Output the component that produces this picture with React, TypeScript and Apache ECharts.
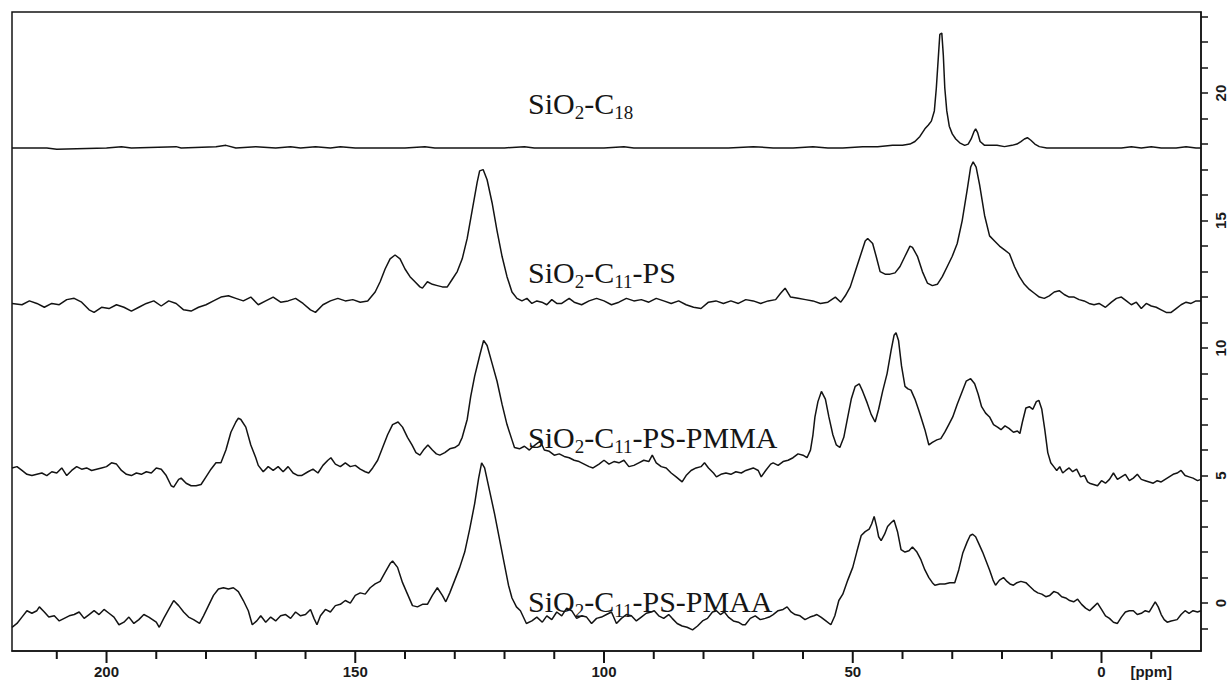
import React, { useEffect, useRef } from "react";
import * as echarts from "echarts";

// [ppm, intensity] pairs
const c18: number[][] = [[219,17.85],[214,17.85],[212,17.85],[210,17.8],[200,17.85],[197,17.9],[195,17.85],[186,17.9],[185,17.85],[178,17.9],[176,17.95],[174,17.85],[170,17.9],[166,17.85],[163,17.9],[161,17.85],[158,17.9],[155,17.85],[153,17.9],[150,17.85],[140,17.85],[136,17.9],[134,17.85],[120,17.85],[116,17.9],[114,17.85],[100,17.85],[96,17.9],[94,17.85],[80,17.85],[75,17.85],[70,17.9],[66,17.85],[62,17.85],[58,17.9],[55,17.85],[52,17.85],[48,17.9],[45,17.9],[42,17.95],[40,17.95],[38.5,18.0],[37.5,18.1],[36.5,18.3],[35.5,18.6],[34.8,18.75],[34.2,18.9],[33.6,19.3],[33.2,20.2],[32.8,21.4],[32.5,22.3],[32.1,22.35],[31.8,21.5],[31.5,20.2],[31.1,19.3],[30.6,18.7],[30,18.4],[29.3,18.2],[28.5,18.05],[27.5,17.95],[26.8,18.0],[26.2,18.2],[25.6,18.5],[25.3,18.6],[24.9,18.45],[24.4,18.1],[23.5,17.95],[22.5,17.95],[21,17.95],[19.5,17.9],[18,17.95],[17,18.0],[16.2,18.1],[15.5,18.2],[14.9,18.25],[14.2,18.15],[13.4,18.0],[12.5,17.9],[11,17.85],[8,17.85],[5,17.85],[2,17.85],[0,17.85],[-4,17.85],[-6,17.9],[-8,17.85],[-10,17.9],[-12,17.85],[-15,17.85],[-17,17.9],[-19,17.85],[-20,17.85]];

const ps: number[][] = [[219,11.75],[217,11.7],[215.5,11.85],[214,11.75],[212.5,11.6],[211,11.75],[209.5,11.7],[208,11.9],[206.5,11.95],[205,11.8],[203.5,11.5],[202.5,11.4],[201,11.6],[199.5,11.55],[198,11.7],[196.5,11.6],[195,11.45],[193.5,11.6],[192,11.75],[190.5,11.85],[189,11.65],[187.5,11.85],[186,11.75],[184.5,11.5],[183,11.45],[181.5,11.6],[180,11.7],[178.5,11.85],[177,12.0],[175.5,12.05],[174,11.95],[172.5,11.85],[171,12.0],[169.5,11.7],[168,11.85],[166.5,12.0],[165,11.8],[163.5,11.85],[162,11.95],[160.5,11.75],[159,11.5],[158,11.4],[156.5,11.7],[155,11.85],[153.5,11.95],[152,11.85],[150.5,11.9],[149,11.8],[147.5,11.85],[146,12.2],[145,12.6],[144,13.1],[143,13.5],[142,13.65],[141,13.5],[140,13.1],[139,12.8],[138,12.6],[137,12.4],[136.5,12.35],[135.5,12.6],[134.5,12.5],[133.5,12.45],[132.5,12.4],[131.5,12.4],[130.5,12.7],[129.5,13.0],[128.5,13.5],[127.5,14.3],[126.5,15.4],[125.5,16.5],[125,16.95],[124.3,17.0],[123.5,16.6],[122.5,15.7],[121.5,14.6],[120.5,13.6],[119.5,12.8],[118.5,12.2],[117.5,11.95],[116.5,11.85],[115.5,11.95],[114.5,11.75],[113.5,11.85],[112.5,11.8],[111.5,11.7],[110.5,11.9],[109.5,11.75],[108.5,11.75],[107,11.95],[106,11.8],[104.5,11.7],[103,11.85],[101.5,11.95],[100,11.85],[98.5,11.7],[97,11.8],[95.5,11.95],[94,11.85],[92.5,11.9],[91,11.8],[89.5,11.95],[88,11.85],[86.5,11.75],[85,11.85],[83.5,11.7],[82,11.6],[80.5,11.55],[79,11.8],[77.5,11.85],[76,11.75],[74.5,11.85],[73,11.75],[71.5,11.9],[70,11.85],[68.5,11.75],[67,11.85],[65.5,11.9],[64.5,12.15],[63.6,12.35],[62.5,12.0],[61,11.95],[59.5,11.9],[58,11.85],[56.5,11.75],[55,11.8],[53.5,12.0],[52.4,11.8],[51.5,12.05],[50.5,12.4],[49.5,13.0],[48.5,13.6],[47.5,14.2],[47,14.3],[46,14.1],[45.3,13.6],[44.5,13.0],[43.5,12.9],[42.5,12.9],[41.5,12.95],[40.5,13.2],[39.5,13.6],[38.5,14.0],[38,13.95],[37,13.6],[36,13.0],[35,12.55],[34,12.45],[33,12.5],[32,12.8],[31,13.2],[30,13.6],[29,14.1],[28,15.0],[27,16.2],[26.3,17.1],[25.8,17.3],[25.2,17.1],[24.5,16.4],[23.5,15.2],[22.5,14.4],[21.5,14.2],[20.5,14.0],[19.5,13.85],[18.5,13.7],[17.5,13.2],[16.5,12.8],[15.5,12.5],[14.5,12.3],[13.5,12.15],[12.5,12.0],[11.5,11.95],[10.5,12.05],[9.5,12.2],[8.5,12.25],[7.5,12.1],[6.5,12.0],[5.5,12.0],[4.5,11.9],[3.5,11.85],[2.5,11.75],[1.5,11.7],[0.5,11.75],[-0.8,11.6],[-2,11.8],[-3,11.95],[-4,12.0],[-5,11.85],[-6,11.7],[-7,11.8],[-8,11.55],[-9,11.75],[-10,11.65],[-11,11.6],[-12,11.5],[-13,11.4],[-14,11.4],[-15,11.55],[-16,11.7],[-17,11.8],[-18,11.75],[-19,11.85],[-20,11.85]];

const pmma: number[][] = [[219,5.3],[218,5.35],[217,5.2],[216,5.05],[215,5.0],[214,5.05],[213,5.1],[212,5.0],[211,5.15],[210,5.1],[209,5.3],[208,5.0],[207,5.2],[206,5.35],[205,5.25],[204,5.3],[203,5.2],[202,5.25],[201,5.3],[200,5.35],[199,5.5],[198,5.45],[197,5.2],[196,5.05],[195,5.0],[194,5.1],[193,5.05],[192,5.15],[191,5.1],[190,5.3],[189,5.25],[188,5.0],[187,4.6],[186.5,4.55],[185.5,4.85],[185,4.9],[184,4.7],[183,4.6],[182,4.6],[181,4.65],[180,4.95],[179,5.25],[178,5.5],[177,5.5],[176,6.0],[175,6.7],[174,7.1],[173.5,7.25],[173,7.2],[172,6.9],[171,6.2],[170,5.7],[169.5,5.4],[168.5,5.15],[167.5,5.35],[166.5,5.2],[165.5,5.35],[164.5,5.15],[163.5,5.35],[162.5,5.1],[161.5,5.0],[160.8,5.0],[159.5,5.15],[158.5,5.25],[157.5,5.1],[156.5,5.4],[155.5,5.6],[154.9,5.7],[154,5.45],[153,5.35],[152,5.5],[151,5.35],[150,5.4],[149,5.25],[148,5.15],[147.3,5.1],[146.5,5.3],[145.5,5.6],[144.5,6.1],[143.5,6.6],[142.5,7.0],[141.4,7.1],[140.5,6.9],[139.5,6.5],[138.6,6.2],[137.8,5.9],[137,5.8],[136.3,6.0],[135.4,6.2],[134.5,6.0],[133.7,5.85],[133,5.8],[132,5.9],[131,6.05],[130,6.1],[129.2,6.2],[128.5,6.5],[127.5,7.2],[126.8,8.1],[126,8.9],[125,9.7],[124.2,10.3],[123.5,10.1],[122.5,9.4],[121.5,8.7],[120.5,7.8],[119.5,7.0],[118.5,6.4],[118,6.1],[117,6.05],[116,6.15],[115,6.0],[114.5,6.1],[113.5,6.25],[112.8,6.35],[112,6.0],[111,5.95],[110,5.8],[109,5.85],[108,5.75],[107,5.7],[106,5.6],[105,5.55],[104,5.45],[103,5.35],[102.2,5.3],[101,5.45],[100,5.6],[99,5.45],[98,5.55],[97,5.5],[96,5.6],[95,5.35],[94,5.4],[93,5.5],[92,5.6],[91,5.55],[90.3,5.8],[89.5,5.5],[88.5,5.35],[87.5,5.3],[86.5,5.1],[85.5,4.95],[84.3,4.75],[83.5,5.0],[82.5,5.2],[81.5,5.3],[80.5,5.35],[79.8,5.5],[79,5.3],[78,5.1],[77.4,4.95],[76.5,5.05],[75.5,5.1],[74.5,5.05],[73.5,5.15],[72.4,5.1],[71.5,5.2],[70,5.3],[69,5.2],[68.4,4.95],[67.5,5.2],[66.5,5.45],[66,5.5],[65,5.4],[64,5.55],[63,5.6],[62,5.7],[61,5.85],[60,5.8],[59.2,5.7],[58.5,6.0],[58,6.6],[57.6,7.3],[57,7.9],[56.3,8.3],[55.5,8.0],[54.8,7.3],[54,6.6],[53.3,6.2],[52.6,6.1],[51.8,6.5],[51,7.3],[50.3,8.0],[49.5,8.5],[48.7,8.6],[48,8.3],[47.1,7.85],[46.3,7.4],[45.5,7.1],[44.8,7.6],[44,8.3],[43.1,9.0],[42.3,9.9],[41.7,10.5],[41.3,10.6],[40.8,10.3],[40.2,9.3],[39.5,8.5],[38.9,8.4],[38.3,8.35],[37.5,8.0],[36.8,7.6],[36.3,7.3],[35.5,6.8],[34.7,6.2],[34,6.3],[33.1,6.4],[32.3,6.45],[31.5,6.7],[30.7,7.0],[29.9,7.3],[29,7.8],[28,8.3],[27.2,8.7],[26.3,8.8],[25.5,8.6],[24.8,8.2],[24.1,7.7],[23.3,7.45],[22.5,7.3],[21.7,7.0],[20.9,6.9],[20.2,6.8],[19.4,6.95],[18.6,6.85],[17.7,6.7],[16.9,6.75],[16.4,6.65],[15.9,7.1],[15.2,7.65],[14.5,7.7],[13.8,7.6],[13.1,7.9],[12.6,7.95],[12,7.6],[11.4,6.8],[10.8,5.9],[10.2,5.5],[9.6,5.35],[9,5.2],[8.4,5.35],[7.8,5.1],[7.2,5.2],[6.5,5.3],[5.8,5.15],[5,5.25],[4.2,4.95],[3.4,5.0],[2.8,4.75],[2.4,4.7],[1.6,4.65],[0.8,4.6],[0,4.8],[-0.8,4.7],[-1.6,4.85],[-2.4,5.1],[-3.2,4.85],[-4,4.95],[-4.8,5.05],[-5.6,4.8],[-6.4,4.9],[-7.2,5.05],[-8,4.85],[-8.8,4.8],[-9.6,4.75],[-10.4,4.7],[-11.2,4.8],[-12,4.75],[-12.8,4.85],[-13.6,4.95],[-14.4,5.05],[-15.2,5.1],[-16,5.2],[-16.8,5.0],[-17.6,4.95],[-18.4,4.9],[-19.3,4.8],[-20,4.85]];

const pmaa: number[][] = [[219,-0.95],[218,-0.8],[217,-0.55],[216,-0.3],[215,-0.4],[214,-0.3],[213.5,-0.15],[212.5,-0.35],[211.6,-0.55],[210.5,-0.5],[209.5,-0.7],[208.5,-0.6],[207.5,-0.5],[206.5,-0.45],[205.5,-0.35],[204.5,-0.6],[203.5,-0.45],[202.5,-0.3],[201.5,-0.45],[200.5,-0.25],[199.5,-0.4],[198.5,-0.55],[197.5,-0.85],[196.5,-0.75],[195.5,-0.55],[194.5,-0.8],[193.5,-0.65],[192.5,-0.45],[191.5,-0.55],[190,-0.75],[189.4,-0.95],[188.5,-0.6],[187.5,-0.25],[186.5,0.1],[185.5,-0.1],[184.5,-0.35],[183.5,-0.55],[182.5,-0.65],[181.3,-0.8],[180.5,-0.5],[179.5,-0.1],[178.5,0.3],[177.5,0.55],[176.5,0.6],[175.5,0.55],[174.5,0.6],[173.5,0.45],[172.5,0.1],[171.5,-0.3],[170.7,-0.85],[169.8,-0.7],[169,-0.5],[168,-0.75],[167,-0.55],[166,-0.7],[165,-0.5],[164,-0.45],[163,-0.6],[162,-0.35],[161,-0.5],[160,-0.45],[159,-0.25],[158.3,-0.6],[157.7,-0.85],[157,-0.5],[156,-0.25],[155,-0.35],[154,-0.1],[153,-0.05],[152,0.1],[151,0.0],[150,0.3],[149,0.4],[148,0.35],[147,0.6],[146,0.75],[145,0.85],[144,1.2],[143,1.55],[142.5,1.65],[141.5,1.4],[140.5,0.8],[139.5,0.35],[138.5,-0.1],[137.5,-0.15],[136.5,-0.05],[135.5,-0.05],[134.5,0.3],[133.5,0.6],[132.5,0.3],[131.8,0.05],[131,0.4],[130,0.9],[129,1.4],[128,2.0],[127,2.9],[126,3.9],[125.2,4.9],[124.6,5.5],[124,5.3],[123,4.4],[122,3.5],[121,2.5],[120,1.5],[119.2,0.7],[118.5,0.2],[117.6,-0.15],[116.8,-0.3],[115.6,-0.8],[114.5,-0.7],[113.5,-0.55],[112.4,-0.75],[111.5,-0.5],[110.5,-0.65],[109.5,-0.35],[108.5,-0.5],[107.5,-0.2],[106.5,-0.3],[105.5,-0.6],[104.5,-0.5],[103.5,-0.55],[102.5,-0.8],[101.5,-0.6],[100.5,-0.55],[99.5,-0.45],[98.5,-0.35],[97.5,-0.8],[96.5,-0.6],[95.5,-0.45],[94.5,-0.5],[93.5,-0.7],[92.5,-0.55],[91.5,-0.4],[90.5,-0.35],[89.9,-0.3],[89,-0.5],[88,-0.6],[87,-0.45],[86.3,-0.6],[85.3,-0.8],[84.3,-0.9],[83.3,-0.95],[82.2,-1.05],[81.2,-0.9],[80.2,-0.7],[79.2,-0.6],[78.2,-0.35],[77.4,-0.3],[76.6,-0.45],[75.8,-0.35],[75,-0.55],[74,-0.7],[73,-0.75],[72.2,-0.85],[71.6,-0.85],[70.6,-0.6],[69.6,-0.5],[68.6,-0.65],[67.6,-0.6],[66.8,-0.55],[66,-0.45],[65,-0.3],[64,-0.25],[63.2,-0.15],[62.4,-0.35],[61.6,-0.45],[60.6,-0.5],[59.6,-0.65],[58.6,-0.55],[57.8,-0.5],[57.2,-0.45],[56.4,-0.55],[55.4,-0.7],[54.4,-0.85],[53.6,-0.5],[52.8,0.1],[52,0.35],[51,0.9],[50,1.4],[49.2,2.0],[48.3,2.65],[47.5,2.8],[46.7,2.9],[46.2,3.1],[45.7,3.4],[45.2,3.0],[44.8,2.6],[44.3,2.45],[43.6,2.7],[43,3.0],[42.3,3.15],[41.7,3.25],[41,2.8],[40.3,2.1],[39.5,2.0],[38.7,2.05],[38,2.2],[37.1,2.0],[36.3,1.7],[35.5,1.3],[34.7,1.0],[34,0.8],[33.5,0.7],[32.5,0.75],[31.5,0.75],[30.5,0.8],[29.5,0.8],[28.7,1.3],[27.9,1.95],[27,2.4],[26.4,2.65],[25.9,2.7],[25.3,2.6],[24.6,2.3],[23.9,2.0],[23.3,1.7],[22.5,1.3],[21.8,0.9],[21.3,0.7],[20.5,0.9],[19.7,1.0],[19,0.85],[18.4,0.75],[17.7,0.7],[17,0.8],[16.2,0.85],[15.2,0.8],[14.4,0.65],[13.6,0.5],[12.8,0.4],[12,0.35],[11.2,0.25],[10.4,0.3],[9.6,0.45],[8.8,0.4],[8,0.25],[7.2,0.2],[6.4,0.1],[5.6,0.05],[4.8,0.15],[4,-0.05],[3.2,-0.2],[2.4,-0.3],[1.6,-0.15],[0.8,0.0],[0,-0.25],[-0.8,-0.5],[-1.6,-0.6],[-2.4,-0.75],[-3.2,-0.8],[-4,-0.55],[-4.8,-0.35],[-5.6,-0.3],[-6.4,-0.3],[-7.2,-0.45],[-8,-0.4],[-8.8,-0.3],[-9.6,-0.35],[-10.2,-0.15],[-10.8,0.05],[-11.4,-0.15],[-12,-0.45],[-12.6,-0.65],[-13.2,-0.75],[-14,-0.7],[-15.2,-0.65],[-16,-0.45],[-16.8,-0.3],[-17.6,-0.4],[-18.4,-0.3],[-19.3,-0.35],[-20,-0.3]];

const X_MIN = -20;
const X_MAX = 219;
const Y_MIN = -1.88;
const Y_MAX = 23.18;
const xMajorTicks = [0, 50, 100, 150, 200];
const xMinorTicks = [-10, 10, 20, 30, 40, 60, 70, 80, 90, 110, 120, 130, 140, 160, 170, 180, 190, 210];
const xLabels = [-10, 0, 50, 100, 150, 200];
const yTicks = [-1, 0, 1, 2, 3, 4, 5, 6, 7, 8, 9, 10, 11, 12, 13, 14, 15, 16, 17, 18, 19, 20, 21, 22, 23];
const yLabels = [0, 5, 10, 15, 20];

// label fragments: even index = normal text, odd index = subscript
const spectrumLabels: string[][] = [
  ["SiO", "2", "-C", "18"],
  ["SiO", "2", "-C", "11", "-PS"],
  ["SiO", "2", "-C", "11", "-PS-PMMA"],
  ["SiO", "2", "-C", "11", "-PS-PMAA"],
];
const labelY = [103, 272, 437, 601];

const SERIF = "Liberation Serif";
const MAIN_SIZE = 30;
const SUB_SIZE = 19;
const INK = "#131313";

function measure(text: string, size: number): number {
  const c = document.createElement("canvas").getContext("2d");
  if (!c) return text.length * size * 0.5;
  c.font = `${size}px '${SERIF}'`;
  return c.measureText(text).width;
}

export default function App() {
  const ref = useRef<HTMLDivElement>(null);
  useEffect(() => {
    if (!ref.current) return;
    const chart = echarts.init(ref.current, null, { renderer: "svg" });
    const line = (d: number[][]) => ({
      type: "line",
      data: d,
      showSymbol: false,
      symbol: "none",
      lineStyle: { color: INK, width: 1.5 },
      silent: true,
    });

    chart.setOption({
      animation: false,
      backgroundColor: "#ffffff",
      grid: {
        left: 12,
        top: 12,
        width: 1189,
        height: 639,
        outerBoundsMode: "none",
        containLabel: false,
        show: true,
        borderColor: INK,
        borderWidth: 1.5,
        backgroundColor: "transparent",
      },
      xAxis: {
        type: "value",
        inverse: true,
        min: X_MIN,
        max: X_MAX,
        position: "bottom",
        axisLine: { show: true, onZero: false, lineStyle: { color: INK, width: 1.5 } },
        axisTick: { show: false },
        axisLabel: {
          customValues: xLabels,
          margin: 13,
          color: "#1a1a1a",
          fontFamily: "'Liberation Sans', Arial, sans-serif",
          fontWeight: "bold",
          fontSize: 15,
          formatter: (v: number) => (v === -10 ? "[ppm]" : String(v)),
        },
        splitLine: { show: false },
      },
      yAxis: {
        type: "value",
        position: "right",
        min: Y_MIN,
        max: Y_MAX,
        axisLine: { show: true, onZero: false, lineStyle: { color: INK, width: 1.5 } },
        axisTick: { show: true, customValues: yTicks, length: 7, lineStyle: { color: INK, width: 1.5 } },
        axisLabel: {
          customValues: yLabels,
          rotate: 90,
          margin: 12,
          color: "#1a1a1a",
          fontFamily: "'Liberation Sans', Arial, sans-serif",
          fontWeight: "bold",
          fontSize: 15,
        },
        splitLine: { show: false },
      },
      series: [line(c18), line(ps), line(pmma), line(pmaa)],
    });

    // spectrum labels with real subscripts
    const graphics: any[] = [];
    spectrumLabels.forEach((parts, i) => {
      let x = 528;
      parts.forEach((p, j) => {
        const sub = j % 2 === 1;
        const size = sub ? SUB_SIZE : MAIN_SIZE;
        graphics.push({
          type: "text",
          x,
          y: labelY[i] + (sub ? 9 : 0),
          silent: true,
          style: {
            text: p,
            fontFamily: SERIF,
            fontSize: size,
            fill: "#161616",
            align: "left",
            verticalAlign: "middle",
          },
        });
        x += measure(p, size);
      });
    });

    // x-axis tick marks, positioned through the axis scale
    const addTicks = (vals: number[], len: number) => {
      vals.forEach((v) => {
        const pt = chart.convertToPixel({ gridIndex: 0 }, [v, Y_MIN]) as number[];
        graphics.push({
          type: "line",
          silent: true,
          z: 10,
          shape: { x1: pt[0], y1: pt[1], x2: pt[0], y2: pt[1] + len },
          style: { stroke: INK, lineWidth: 2 },
        });
      });
    };
    addTicks(xMajorTicks, 12);
    addTicks(xMinorTicks, 8);

    chart.setOption({ graphic: graphics });
    return () => chart.dispose();
  }, []);
  return (
    <div
      ref={ref}
      style={{ position: "absolute", left: 0, top: 0, width: 1230, height: 683, background: "#fff" }}
    />
  );
}
